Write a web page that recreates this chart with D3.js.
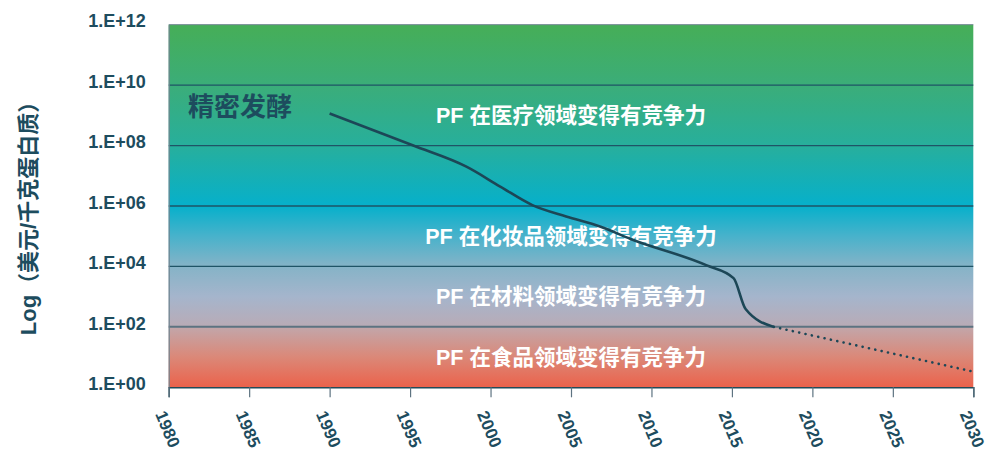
<!DOCTYPE html>
<html>
<head>
<meta charset="utf-8">
<script src="https://cdn.jsdelivr.net/npm/d3@7"></script>
<style>
  html, body { margin: 0; padding: 0; background: #ffffff; }
  svg { display: block; font-family: "Liberation Sans", Arial, "Noto Sans CJK SC", sans-serif; font-weight: bold; }
</style>
</head>
<body>
<svg id="chart" width="989" height="451"></svg>
<script>
// Cost of precision-fermentation protein over time (USD per kg, log scale)
const years = [1990, 1995.2, 1998.5, 2000.6, 2002.6, 2004.7, 2006.8, 2008.7, 2013.4, 2015.1, 2015.85, 2017.6];
const costs = [1.15e9, 1e8, 2.0e7, 4.4e6, 1.07e6, 4.5e5, 2.1e5, 8.1e4, 1.1e4, 4.1e3, 3.9e2, 1e2];

// Projection after 2017
const projYears = [2017.6, 2030];
const projCosts = [1e2, 3.3];

// Axis ticks
const xTicks = [1980, 1985, 1990, 1995, 2000, 2005, 2010, 2015, 2020, 2025, 2030];
const yTicks = [1, 1e2, 1e4, 1e6, 1e8, 1e10, 1e12];

// Market bands where PF becomes competitive
const bandLabels = [
  "PF 在医疗领域变得有竞争力",
  "PF 在化妆品领域变得有竞争力",
  "PF 在材料领域变得有竞争力",
  "PF 在食品领域变得有竞争力"
];
const bandLabelLevels = [1e9, 1e5, 1e3, 1e1];
const bandLabelYear = 2005;

const seriesTitle = "精密发酵";
const yTitle = "Log（美元/千克蛋白质）";

const svg = d3.select("#chart");
const plotLeft = 168.7, plotRight = 973.3, plotTop = 24.7, plotBottom = 387.3;

const x = d3.scaleLinear().domain([1980, 2030]).range([plotLeft, plotRight]);
const y = d3.scaleLog().domain([1, 1e12]).range([plotBottom, plotTop]);

// Background gradient, green at the top through cyan to red at the bottom
const defs = svg.append("defs");
const grad = defs.append("linearGradient")
  .attr("id", "bg").attr("x1", 0).attr("y1", 0).attr("x2", 0).attr("y2", 1);
const stops = [
  [12, "#46ae57"], [10, "#3bad79"], [8, "#27af9c"], [6, "#06b0cb"],
  [5, "#48b2cb"], [4, "#85b3c7"], [3, "#a5b5cc"], [2.02, "#b9abb6"],
  [1.95, "#c3a5a8"], [1, "#db8878"], [0, "#eb624b"]
];
stops.forEach(([lv, c]) => {
  grad.append("stop").attr("offset", (12 - lv) / 12).attr("stop-color", c);
});

svg.append("rect")
  .attr("x", plotLeft).attr("y", plotTop)
  .attr("width", plotRight - plotLeft).attr("height", plotBottom - plotTop)
  .attr("fill", "url(#bg)");

// Horizontal gridlines
svg.append("g").selectAll("line")
  .data(yTicks.filter(v => v > 1 && v < 1e12))
  .join("line")
  .attr("x1", plotLeft).attr("x2", plotRight)
  .attr("y1", d => y(d)).attr("y2", d => y(d))
  .attr("stroke", d => d === 1e2 ? "#5d7381" : "#1f5466")
  .attr("stroke-width", d => d === 1e2 ? 2 : 1.3);

// Top border
svg.append("line")
  .attr("x1", plotLeft).attr("x2", plotRight).attr("y1", plotTop).attr("y2", plotTop)
  .attr("stroke", "#6f8490").attr("stroke-width", 1);

// Y axis
const yAxis = d3.axisLeft(y)
  .tickValues(yTicks)
  .tickSize(0)
  .tickPadding(23)
  .tickFormat(d => "1.E+" + String(Math.round(Math.log10(d))).padStart(2, "0"));
const gy = svg.append("g").attr("transform", `translate(${plotLeft},0)`).call(yAxis);
gy.select(".domain").attr("stroke", "#6f8490").attr("stroke-width", 1.2);
gy.selectAll("text")
  .attr("fill", "#1d4c5e").attr("font-size", 18).attr("font-weight", "bold")
  .attr("dy", "0.12em")
  .attr("font-family", "'Liberation Sans', Arial, sans-serif");

// X axis
const xAxis = d3.axisBottom(x)
  .tickValues(xTicks)
  .tickSize(10)
  .tickFormat(d3.format("d"));
const gx = svg.append("g").attr("transform", `translate(0,${plotBottom})`).call(xAxis);
gx.select(".domain").attr("stroke", "#234a58").attr("stroke-width", 1.5);
gx.selectAll(".tick line").attr("stroke", "#5d7381").attr("stroke-width", 1.2);
gx.selectAll("text")
  .attr("fill", "#1d4c5e").attr("font-size", 17).attr("font-weight", "bold")
  .attr("font-family", "'Liberation Sans', Arial, sans-serif")
  .attr("text-anchor", "start")
  .attr("x", 0).attr("y", 0).attr("dy", "0.72em")
  .attr("transform", "translate(-3,22) rotate(67)");

// Y axis title
svg.append("text")
  .attr("transform", "translate(36,213) rotate(-90)")
  .attr("text-anchor", "middle")
  .attr("fill", "#1d4c5e")
  .attr("font-size", 22)
  .text(yTitle);

// Band labels
svg.append("g").selectAll("text")
  .data(bandLabels)
  .join("text")
  .attr("x", x(bandLabelYear))
  .attr("y", (d, i) => y(bandLabelLevels[i]))
  .attr("dy", "0.36em")
  .attr("text-anchor", "middle")
  .attr("fill", "#ffffff")
  .attr("font-size", 21.5)
  .text(d => d);

// Series title
svg.append("text")
  .attr("x", x(1981.2))
  .attr("y", y(10 ** 9.28))
  .attr("dy", "0.36em")
  .attr("fill", "#1d4c5e")
  .attr("font-size", 26)
  .text(seriesTitle);

// Historical cost line (gently smoothed)
const line = d3.line()
  .x(d => x(d[0]))
  .y(d => y(d[1]))
  .curve(d3.curveMonotoneX);

svg.append("path")
  .datum(years.map((yr, i) => [yr, costs[i]]))
  .attr("d", line)
  .attr("fill", "none")
  .attr("stroke", "#1c4757")
  .attr("stroke-width", 2.6)
  .attr("stroke-linejoin", "round");

// Projected cost line (dotted)
svg.append("path")
  .datum(projYears.map((yr, i) => [yr, projCosts[i]]))
  .attr("d", line)
  .attr("fill", "none")
  .attr("stroke", "#1c4757")
  .attr("stroke-width", 2.6)
  .attr("stroke-linecap", "round")
  .attr("stroke-dasharray", "0.1 6.4");
</script>
</body>
</html>
